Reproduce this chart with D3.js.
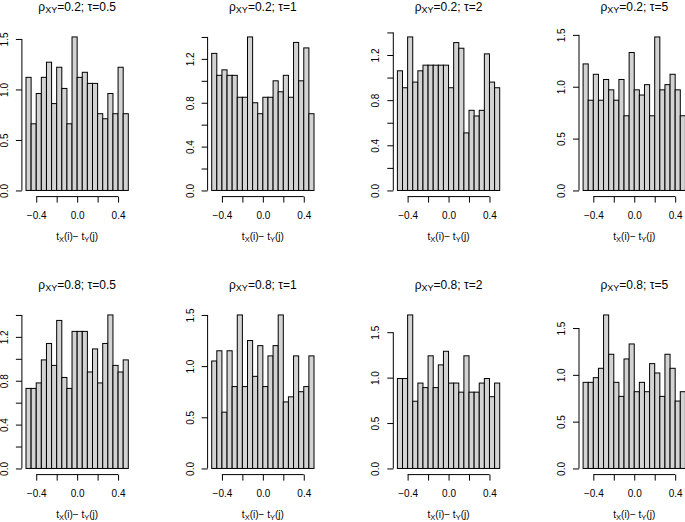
<!DOCTYPE html>
<html>
<head>
<meta charset="utf-8">
<script src="https://cdn.jsdelivr.net/npm/d3@7"></script>
<style>
  body { margin: 0; background: #fff; }
  svg { display: block; font-family: "Liberation Sans", Arial, Helvetica, sans-serif; }
</style>
</head>
<body>
<svg id="chart" width="685" height="522" viewBox="0 0 685 522"></svg>
<script>
// histogram breaks shared by every panel
const breaks = [-0.5, -0.45, -0.4, -0.35, -0.3, -0.25, -0.2, -0.15, -0.1, -0.05, 0,
  0.05, 0.1, 0.15, 0.2, 0.25, 0.3, 0.35, 0.4, 0.45, 0.5];

const rhoLabels = ["0.2", "0.8"];
const tauLabels = ["0.5", "1", "2", "5"];

// densities (row: rho, column: tau)
const dens02_05 = [1.12, 0.66, 0.96, 1.12, 1.27, 0.86, 1.22, 1.01, 0.66, 1.52, 1.12, 1.17, 1.06, 1.06, 0.76, 0.71, 0.96, 0.76, 1.22, 0.76];
const dens02_1 = [1.25, 1.05, 1.10, 1.05, 1.05, 0.85, 0.85, 1.40, 0.80, 0.70, 0.85, 0.85, 1.00, 0.90, 1.05, 0.85, 1.35, 1.00, 1.30, 0.70];
const dens02_2 = [1.06, 0.91, 1.36, 0.96, 1.06, 1.11, 1.11, 1.11, 1.11, 1.11, 0.91, 1.31, 1.26, 0.51, 0.71, 0.66, 0.71, 1.21, 0.96, 0.91];
const dens02_5 = [1.22, 0.87, 1.12, 0.87, 1.07, 0.97, 0.87, 1.07, 0.72, 1.33, 0.97, 0.92, 1.02, 0.72, 1.48, 0.97, 1.02, 1.12, 0.97, 0.72];
const dens08_05 = [0.73, 0.73, 0.78, 0.99, 1.14, 0.94, 1.35, 0.83, 0.73, 1.25, 1.25, 1.25, 0.88, 1.09, 0.78, 1.14, 1.40, 0.94, 0.88, 0.99];
const dens08_1 = [1.05, 1.15, 0.55, 1.15, 0.80, 1.50, 0.80, 1.25, 0.90, 1.20, 0.80, 1.10, 1.20, 1.50, 0.65, 0.70, 1.10, 0.75, 0.80, 1.10];
const dens08_2 = [0.99, 0.99, 1.69, 0.74, 0.94, 0.89, 1.24, 0.89, 1.14, 1.29, 0.94, 0.94, 0.84, 1.24, 0.84, 0.84, 0.94, 0.99, 0.79, 0.94];
const dens08_5 = [0.92, 0.92, 0.97, 1.07, 1.64, 1.22, 0.92, 0.77, 1.17, 1.33, 0.82, 0.92, 0.82, 1.12, 1.02, 0.77, 1.22, 1.07, 0.72, 0.82];

const densities = [
  [dens02_05, dens02_1, dens02_2, dens02_5],
  [dens08_05, dens08_1, dens08_2, dens08_5],
];

// y ticks per panel, and which of them carry a label
const ticksHalf = [0, 0.5, 1.0, 1.5];
const ticksFifth = [0, 0.2, 0.4, 0.6, 0.8, 1.0, 1.2, 1.4];
const labelsFifth = [0, 0.4, 0.8, 1.2];
const yTicks = [
  [ticksHalf, ticksFifth, ticksFifth, ticksHalf],
  [ticksFifth, ticksHalf, ticksHalf, ticksHalf],
];
const yLabels = [
  [ticksHalf, labelsFifth, labelsFifth, ticksHalf],
  [labelsFifth, ticksHalf, ticksHalf, ticksHalf],
];

const xTicks = [-0.4, -0.2, 0, 0.2, 0.4];
const xLabels = [-0.4, 0, 0.4];

// layout
const colPitch = 185.7;
const rowPitch = 278;
const plotLeft = 21.9;
const plotTop = 30.8;
const plotW = 110.5;
const plotH = 165.8;

const svg = d3.select("#chart");
const fmt = d3.format(".1f");

densities.forEach((row, r) => {
  row.forEach((values, c) => {
    const left = plotLeft + c * colPitch;
    const top = plotTop + r * rowPitch;
    const maxVal = d3.max(values);

    const x = d3.scaleLinear().domain([-0.54, 0.54]).range([left, left + plotW]);
    const y = d3
      .scaleLinear()
      .domain([-0.04 * maxVal, 1.04 * maxVal])
      .range([top + plotH, top]);

    const g = svg.append("g").attr("class", "panel");

    g.selectAll("rect")
      .data(values)
      .enter()
      .append("rect")
      .attr("x", (d, i) => x(breaks[i]))
      .attr("y", (d) => y(d))
      .attr("width", (d, i) => x(breaks[i + 1]) - x(breaks[i]))
      .attr("height", (d) => y(0) - y(d))
      .attr("fill", "#d3d3d3")
      .attr("stroke", "#000")
      .attr("stroke-width", 1);

    // x axis
    const xAxis = d3
      .axisBottom(x)
      .tickValues(xTicks)
      .tickSize(6)
      .tickSizeOuter(0)
      .tickFormat((d) => (xLabels.includes(d) ? fmt(d) : ""));

    const xg = g
      .append("g")
      .attr("transform", `translate(0,${top + plotH})`)
      .call(xAxis);
    xg.select(".domain").attr("d", `M${x(xTicks[0])},0H${x(xTicks[xTicks.length - 1])}`);
    xg.selectAll("text")
      .attr("y", 22)
      .attr("dy", 0)
      .attr("font-size", 10);
    xg.attr("font-family", null).attr("font-size", null);

    // y axis
    const ticks = yTicks[r][c];
    const labelled = yLabels[r][c];
    const yAxis = d3
      .axisLeft(y)
      .tickValues(ticks)
      .tickSize(6)
      .tickSizeOuter(0)
      .tickFormat((d) => (labelled.includes(d) ? fmt(d) : ""));

    const yg = g.append("g").attr("transform", `translate(${left},0)`).call(yAxis);
    yg.select(".domain").attr("d", `M0,${y(ticks[0])}V${y(ticks[ticks.length - 1])}`);
    yg.selectAll("text")
      .attr("transform", "rotate(-90)")
      .attr("x", 0)
      .attr("y", -14)
      .attr("dy", 0)
      .attr("text-anchor", "middle")
      .attr("font-size", 10);
    yg.attr("font-family", null).attr("font-size", null);

    // title: rho_XY=..; tau=..
    const title = g
      .append("text")
      .attr("x", left + plotW / 2)
      .attr("y", top - 20)
      .attr("text-anchor", "middle")
      .attr("font-size", 12);
    title.append("tspan").text("ρ");
    title.append("tspan").attr("font-size", 9).attr("dy", 2.5).text("XY");
    title.append("tspan").attr("dy", -2.5).text(`=${rhoLabels[r]}; τ=${tauLabels[c]}`);

    // x label: t_X(i) - t_Y(j)
    const xlab = g
      .append("text")
      .attr("x", left + plotW / 2)
      .attr("y", top + plotH + 43)
      .attr("text-anchor", "middle")
      .attr("font-size", 10);
    xlab.append("tspan").text("t");
    xlab.append("tspan").attr("font-size", 7.5).attr("dy", 2).text("X");
    xlab.append("tspan").attr("dy", -2).text("(i)− t");
    xlab.append("tspan").attr("font-size", 7.5).attr("dy", 2).text("Y");
    xlab.append("tspan").attr("dy", -2).text("(j)");
  });
});
</script>
</body>
</html>
